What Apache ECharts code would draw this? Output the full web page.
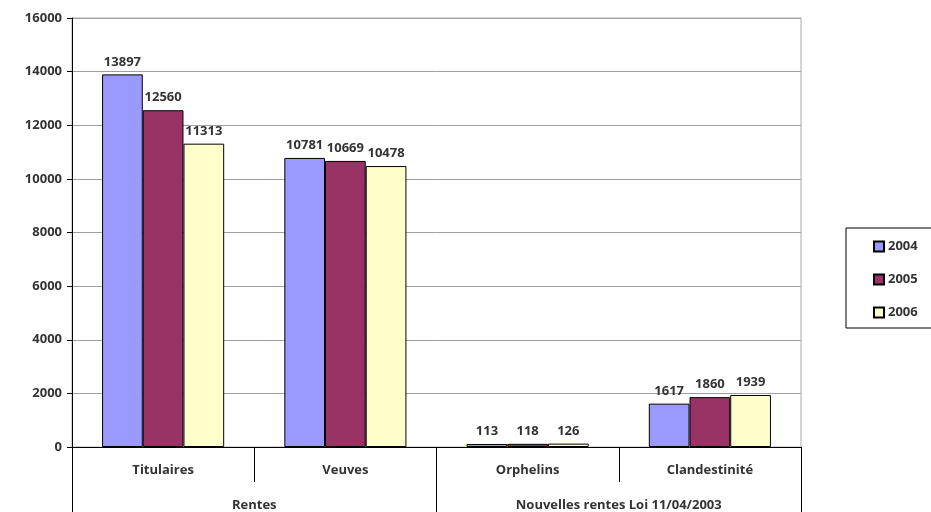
<!DOCTYPE html>
<html>
<head>
<meta charset="utf-8">
<script src="https://cdn.jsdelivr.net/npm/echarts@6/dist/echarts.min.js"></script>
<style>
  html, body { margin: 0; padding: 0; background: #fff; }
  #chart { width: 931px; height: 512px; }
</style>
</head>
<body>
<div id="chart"></div>
<script>
// Categories and their grouping
const categories = ['Titulaires', 'Veuves', 'Orphelins', 'Clandestinité'];
const groups = ['Rentes', 'Nouvelles rentes Loi 11/04/2003'];

// Yearly values per category
const years = ['2004', '2005', '2006'];
const values2004 = [13897, 10781, 113, 1617];
const values2005 = [12560, 10669, 118, 1860];
const values2006 = [11313, 10478, 126, 1939];

const colors = ['#9999FF', '#993366', '#FFFFCC'];
const FONT = '"Open Sans", "Noto Sans", sans-serif';
const textStyle = { fontFamily: FONT, fontSize: 13, fontWeight: 'bold', color: '#333' };

const chart = echarts.init(document.getElementById('chart'), null, { renderer: 'canvas' });

const seriesValues = [values2004, values2005, values2006];

chart.setOption({
  animation: false,
  backgroundColor: '#fff',
  textStyle: { fontFamily: FONT },
  grid: {
    left: 72, right: 130, top: 18, bottom: 65,
    show: true, borderColor: '#aaa', borderWidth: 1, backgroundColor: 'transparent'
  },
  legend: {
    orient: 'vertical',
    left: 846, top: 228,
    padding: [12, 30, 9, 27],
    itemGap: 20,
    itemWidth: 10, itemHeight: 10,
    icon: 'rect',
    borderColor: '#000', borderWidth: 1,
    textStyle: Object.assign({}, textStyle, { padding: [0, 0, 0, -1] }),
    data: years
  },
  xAxis: [
    {
      type: 'category',
      data: categories,
      position: 'bottom',
      axisLine: { show: true, lineStyle: { color: '#000', width: 1 } },
      axisTick: { show: true, length: 35, interval: 0, lineStyle: { color: '#000' } },
      axisLabel: Object.assign({}, textStyle, { margin: 17, interval: 0 }),
      splitLine: { show: false }
    },
    {
      type: 'category',
      data: groups,
      position: 'bottom',
      offset: 35,
      axisLine: { show: false },
      axisTick: { show: true, length: 30, interval: 0, lineStyle: { color: '#000' } },
      axisLabel: Object.assign({}, textStyle, { margin: 17, interval: 0 }),
      splitLine: { show: false }
    }
  ],
  yAxis: {
    type: 'value',
    min: 0, max: 16000, interval: 2000,
    axisLine: { show: true, lineStyle: { color: '#000' } },
    axisTick: { show: true, length: 5, lineStyle: { color: '#000' } },
    axisLabel: Object.assign({}, textStyle, { margin: 10, formatter: v => String(v) }),
    splitLine: { show: true, lineStyle: { color: '#a0a0a0', width: 1 } }
  },
  series: years.map((y, i) => ({
    name: y,
    type: 'bar',
    xAxisIndex: 0,
    data: seriesValues[i],
    barGap: '0%',
    barCategoryGap: '33%',
    itemStyle: { color: colors[i], borderColor: '#000', borderWidth: 1 },
    label: Object.assign({ show: true, position: 'top', distance: 6 }, textStyle)
  }))
});
</script>
</body>
</html>
